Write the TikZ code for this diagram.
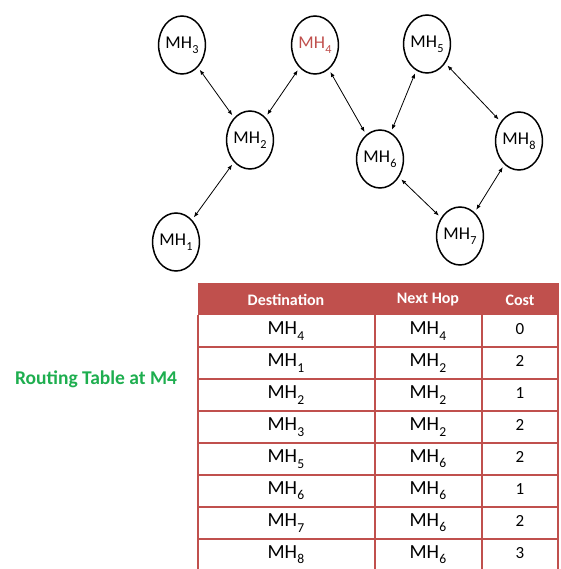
\documentclass[tikz,border=0pt]{standalone}
\usepackage{fontspec}
\setmainfont{Carlito}
\usetikzlibrary{shapes.geometric,arrows.meta}
\definecolor{tred}{HTML}{C0504D}
\definecolor{tgreen}{HTML}{1EAE4F}
\newcommand\mhsub[1]{MH\kern0.3pt\raisebox{-0.55ex}{\scalebox{0.68}{#1}}}
\begin{document}
\begin{tikzpicture}[x=1pt,y=-1pt,
  host/.style={draw,ellipse,line width=1.5pt,minimum width=46pt,minimum height=58pt,inner sep=0pt,font=\fontsize{18}{20}\selectfont},
  link/.style={{Latex[length=5pt,width=4pt]}-{Latex[length=5pt,width=4pt]},line width=0.8pt,shorten <=3pt,shorten >=3pt},
  cell/.style={font=\fontsize{20}{22}\selectfont,inner sep=0pt},
  head/.style={font=\bfseries\fontsize{16}{18}\selectfont,text=white,inner sep=0pt},
  grid/.style={draw=tred,line width=1.2pt}]
\useasboundingbox (0,0) rectangle (560,569);
% hosts
\node[host] (mh3) at (182,45) {\mhsub{3}};
\node[host,text=tred] (mh4) at (315,45) {\mhsub{4}};
\node[host] (mh5) at (427,44) {\mhsub{5}};
\node[host] (mh2) at (250,140) {\mhsub{2}};
\node[host] (mh6) at (380,159) {\mhsub{6}};
\node[host] (mh8) at (519,141) {\mhsub{8}};
\node[host] (mh1) at (176,242) {\mhsub{1}};
\node[host] (mh7) at (460,236) {\mhsub{7}};
% links
\draw[link] (mh3) -- (mh2);
\draw[link] (mh4) -- (mh2);
\draw[link] (mh1) -- (mh2);
\draw[link] (mh4) -- (mh6);
\draw[link] (mh5) -- (mh6);
\draw[link] (mh5) -- (mh8);
\draw[link] (mh6) -- (mh7);
\draw[link] (mh8) -- (mh7);
% label
\node[font=\bfseries\fontsize{19.5}{22}\selectfont,text=tgreen] (title) at (96,379) {Routing Table at M4};
% table
\fill[tred] (198,283) rectangle (558,315);
\draw[grid] (198,315) -- (198,569);
\draw[grid] (558,283) -- (558,569);
\draw[grid] (375,315) -- (375,569);
\draw[grid] (482,315) -- (482,569);
\draw[tred,line width=1pt] (375,283) -- (375,315) (482,283) -- (482,315);
\foreach \y in {347,379,411,443,475,507,539} \draw[grid] (198,\y) -- (558,\y);
\node[head] (h1) at (286,300) {Destination};
\node[head] (h2) at (428,300) {Next Hop};
\node[head] (h3) at (520,300) {Cost};
\foreach \i/\d/\n/\c in {1/4/4/0,2/1/2/2,3/2/2/1,4/3/2/2,5/5/6/2,6/6/6/1,7/7/6/2,8/8/6/3}{
  \pgfmathsetmacro\yy{331+32*(\i-1)}
  \node[cell] (d\i) at (286,\yy) {\mhsub{\d}};
  \node[cell] (n\i) at (428,\yy) {\mhsub{\n}};
  \node[cell,font=\fontsize{17}{19}\selectfont] (c\i) at (520,\yy-2) {\c};
}
\end{tikzpicture}
\end{document}
